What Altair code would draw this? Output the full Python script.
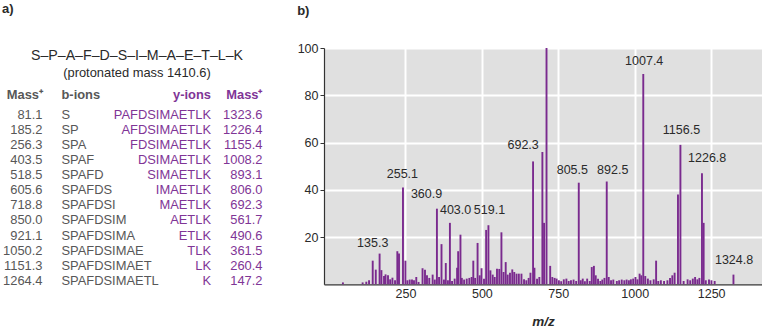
import altair as alt
import pandas as pd

# ---------------- data ----------------
sequence = "S–P–A–F–D–S–I–M–A–E–T–L–K"
protonated = "(protonated mass 1410.6)"
header = ["Mass⁺", "b-ions", "y-ions", "Mass⁺"]
b_mass = ["81.1", "185.2", "256.3", "403.5", "518.5", "605.6", "718.8",
          "850.0", "921.1", "1050.2", "1151.3", "1264.4"]
b_ions = ["S", "SP", "SPA", "SPAF", "SPAFD", "SPAFDS", "SPAFDSI", "SPAFDSIM",
          "SPAFDSIMA", "SPAFDSIMAE", "SPAFDSIMAET", "SPAFDSIMAETL"]
y_ions = ["PAFDSIMAETLK", "AFDSIMAETLK", "FDSIMAETLK", "DSIMAETLK", "SIMAETLK",
          "IMAETLK", "MAETLK", "AETLK", "ETLK", "TLK", "LK", "K"]
y_mass = ["1323.6", "1226.4", "1155.4", "1008.2", "893.1", "806.0", "692.3",
          "561.7", "490.6", "361.5", "260.4", "147.2"]

peak_mz = [45.5, 110, 122, 131, 143, 153, 165.5, 171.5, 180, 185, 193, 200, 207.5, 216,
           223.5, 229, 242, 250, 256.5, 264, 271.5, 278, 285.5, 293, 306, 314, 320.5,
           328, 339, 346, 353, 360, 368, 376, 382, 389, 395.5, 402.5, 411, 419, 422.5,
           430, 434.5, 442, 450.5, 459, 466.5, 472, 478, 486, 493, 499, 507, 514,
           521.5, 528, 535.5, 542, 549.5, 557, 564, 571, 578, 584.5, 592, 599.5, 606,
           613.5, 621, 629.5, 638, 645.5, 653, 659, 667.5, 672, 680.5, 688, 698,
           703.5, 711.5, 723.5, 730.5, 738, 744.5, 752, 759.5, 768, 776.5, 784,
           791.5, 800, 808.5, 817, 823.5, 830, 837, 844.5, 853, 859.5, 866.5, 872.5,
           880, 887.5, 894, 901, 908.5, 915, 922.5, 930, 941.5, 949, 957.5, 966,
           973.5, 981, 987.5, 995, 1002.5, 1009, 1016, 1021.5, 1028, 1034.5, 1043,
           1051.5, 1062, 1070, 1077, 1085.5, 1096, 1107, 1115.5, 1123, 1130.5,
           1141.5, 1149.5, 1160, 1173, 1181.5, 1190, 1197.5, 1205, 1211.5, 1220,
           1225.5, 1232.5, 1243, 1251, 1261.5, 1323]
peak_int = [0.8, 0.8, 1.1, 1.7, 10, 6.2, 13, 6, 3.5, 4.2, 3.8, 2.1, 2.8, 1.7,
            14, 13, 41, 10, 1.7, 2, 2, 1.7, 3.1, 1, 6.8, 6.2, 3.8,
            2.7, 4.1, 2, 32, 3.1, 17, 2, 9, 1.7, 26, 1.4, 2.4, 7, 14,
            21, 2.7, 2, 2.4, 2.7, 3.1, 10, 2.7, 17.5, 3.8, 6.8, 2.4, 23,
            25, 5.9, 4.1, 3.1, 6.6, 6.5, 22, 5.2, 9.4, 4.1, 4.9, 6.3, 5.2,
            4.5, 4.5, 4.5, 2.1, 1.7, 2.7, 4.9, 52, 7, 2.4, 3.1, 56,
            26, 100, 7.8, 3.1, 2.7, 2.4, 1.7, 1.3, 2.1, 2.4, 1.4,
            1.7, 2, 1.4, 43, 1.7, 2.4, 1.3, 2.4, 1.4, 7.3, 7.8, 3.8,
            2.4, 1.4, 2, 2.7, 43.5, 3.1, 1.7, 2, 1.4, 1.7, 2, 1.7,
            2, 1.7, 2.1, 2.4, 3.1, 2.1, 4.5, 3.8, 89, 3.5, 2.4,
            1.7, 2.1, 10, 1.4, 1.7, 1.4, 1.7, 2.7, 3.8, 4.9,
            38, 59, 1.4, 2.1, 1.7, 2.4, 3.1, 2.1, 2.7, 47,
            26, 1.7, 2, 1.7, 1.4, 4.1]

label_text = ["135.3", "255.1", "360.9", "403.0", "519.1", "692.3", "805.5",
              "892.5", "1007.4", "1156.5", "1226.8", "1324.8"]
label_mz = [143, 240, 319, 414, 525, 635, 796, 928, 1031, 1153, 1237, 1325]
label_int = [17.5, 46.8, 38.4, 31.3, 31.3, 59, 48.5, 48.5, 94.7, 65.5, 53.4, 10.1]

x_ticks = [250, 500, 750, 1000, 1250]
y_ticks = [20, 40, 60, 80, 100]

# ---------------- styles ----------------
FONT = "Liberation Sans"
GRAY = "#575757"
DARK = "#2a2a2a"
PURPLE = "#7f3596"
BAR = "#7a2a8e"
FS = 12.5
TFS = 12.9


def note(text, x, y, **kw):
    return alt.Chart(pd.DataFrame({"t": [text]})).mark_text(
        font=FONT, baseline="middle", **kw
    ).encode(x=alt.value(x), y=alt.value(y), text="t:N")


# ---------------- left: table ----------------
# (vertical positions are relative to the spectrum's plot top, which the row shares)
table = pd.DataFrame({"row": list(range(len(b_mass))), "b_mass": b_mass,
                      "b_ion": b_ions, "y_ion": y_ions, "y_mass": y_mass})
row_y = alt.Y("row:Q", scale=alt.Scale(domain=[0, 11], range=[66.6, 233.0]), axis=None)
base = alt.Chart(table).encode(y=row_y)
col_bm = base.mark_text(font=FONT, fontSize=TFS, color=GRAY, align="right", baseline="middle").encode(
    x=alt.value(42.5), text="b_mass:N")
col_bi = base.mark_text(font=FONT, fontSize=TFS, color=GRAY, align="left", baseline="middle").encode(
    x=alt.value(61.5), text="b_ion:N")
col_yi = base.mark_text(font=FONT, fontSize=TFS, color=PURPLE, align="right", baseline="middle").encode(
    x=alt.value(211), text="y_ion:N")
col_ym = base.mark_text(font=FONT, fontSize=TFS, color=PURPLE, align="right", baseline="middle").encode(
    x=alt.value(262.5), text="y_mass:N")

left = alt.layer(
    note("a)", 2, -39.2, fontSize=13, fontWeight="bold", color=DARK, align="left"),
    note(sequence, 137, 7.5, fontSize=14.2, color=DARK, align="center", fontWeight=500),
    note(protonated, 137, 25, fontSize=TFS, color=DARK, align="center"),
    note(header[0], 43, 46.8, fontSize=TFS, color=GRAY, align="right", fontWeight="bold"),
    note(header[1], 61.5, 46.8, fontSize=TFS, color=GRAY, align="left", fontWeight="bold"),
    note(header[2], 211, 46.8, fontSize=TFS, color=PURPLE, align="right", fontWeight="bold"),
    note(header[3], 262.5, 46.8, fontSize=TFS, color=PURPLE, align="right", fontWeight="bold"),
    col_bm, col_bi, col_yi, col_ym,
).properties(width=297, height=236,
             view=alt.ViewBackground(fill="white", stroke="transparent", strokeWidth=0))

# ---------------- right: spectrum ----------------
spec = pd.DataFrame({"mz": peak_mz, "intensity": peak_int})
labels = pd.DataFrame({"mz": label_mz, "intensity": label_int, "t": label_text})

xscale = alt.Scale(domain=[0, 1400], nice=False, zero=False)
yscale = alt.Scale(domain=[0, 100], nice=False)

bars = alt.Chart(spec).mark_bar(size=1.9, color=BAR).encode(
    x=alt.X("mz:Q", scale=xscale,
            axis=alt.Axis(values=x_ticks, format="d", title="m/z", ticks=False, labelPadding=3,
                          titlePadding=15, titleFontStyle="italic", titleFontWeight="bold",
                          titleFontSize=13.5, titleFont=FONT, titleColor=DARK,
                          labelFont=FONT, labelFontSize=FS, labelColor=DARK,
                          domainColor="#333333", domainWidth=1.2,
                          grid=True, gridColor="white", gridWidth=2)),
    y=alt.Y("intensity:Q", scale=yscale,
            axis=alt.Axis(values=y_ticks, title=None, tickSize=4, tickColor="#333333",
                          labelPadding=2, labelFont=FONT, labelFontSize=FS, labelColor=DARK,
                          domainColor="#333333", domainWidth=1.2,
                          grid=True, gridColor="white", gridWidth=2)),
)
peak_labels = alt.Chart(labels).mark_text(font=FONT, fontSize=FS, color=DARK, baseline="middle").encode(
    x=alt.X("mz:Q", scale=xscale), y=alt.Y("intensity:Q", scale=yscale), text="t:N")

right = alt.layer(bars, peak_labels).properties(
    width=438, height=236.3,
    view=alt.ViewBackground(fill="#e0e0e0", stroke="transparent", strokeWidth=0),
    title=alt.TitleParams("b)", anchor="start", frame="bounds", fontSize=13, fontWeight="bold",
                          font=FONT, color=DARK, offset=24.4),
)

chart = alt.hconcat(left, right, spacing=0, padding={"left": 0, "right": 0, "top": 2, "bottom": 0}
                    ).configure_view(strokeWidth=0, stroke="transparent").configure(background="white")

chart.save("out.html", embed_options={"renderer": "svg", "actions": False})
